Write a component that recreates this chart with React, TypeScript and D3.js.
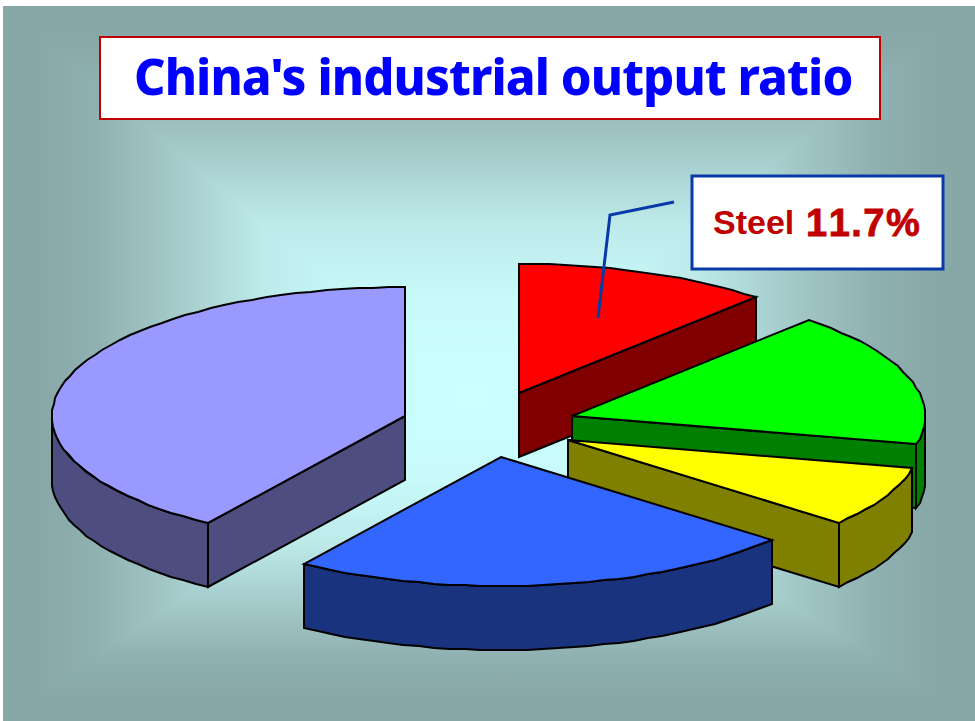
import React from "react";
import * as d3 from "d3";

// Share of industrial output per sector, clockwise from twelve o'clock.
const sectors = ["Steel", "Machinery", "Chemicals", "Textiles", "Other"];
const shares = [11.7, 16.8, 7.6, 23.3, 40.6];
const topColors = ["#ff0000", "#00ff00", "#ffff00", "#3366ff", "#9999ff"];
const sideColors = ["#800000", "#008000", "#808000", "#19337f", "#4d4d80"];
// Apex of each exploded wedge on the top plane.
const apexX = [519, 572, 568, 501, 405];
const apexY = [393, 416, 440, 457, 416];
const paintOrder = [4, 0, 1, 2, 3];

const titleText = "China's industrial output ratio";
const calloutName = "Steel";
const calloutValue = "11.7%";

const W = 975;
const H = 721;
const RX = 353;
const RY = 129;
const DEPTH = 64;
const BG = { x0: 3, y0: 6, x1: 975, y1: 721, cx: 470, cy: 400 };

const pieAngles = d3.pie<number>().sort(null).value((d) => d)(shares);

const rim = (ax: number, ay: number, t: number): [number, number] => [
  Math.round(ax + RX * Math.sin(t)),
  Math.round(ay - RY * Math.cos(t)),
];

// Sample an arc of the elliptical rim at a coarse angular step.
const rimPoints = (ax: number, ay: number, a0: number, a1: number) => {
  const n = Math.max(2, Math.ceil((a1 - a0) / (Math.PI / 70)));
  return d3.range(n + 1).map((i) => rim(ax, ay, a0 + ((a1 - a0) * i) / n));
};

const line = d3.line();
const closed = (pts: [number, number][]) => line(pts) + "Z";

const stops: [number, string][] = [
  [0, "#ccffff"],
  [0.25, "#c8fafa"],
  [0.45, "#bde9e9"],
  [0.65, "#a2c7c7"],
  [0.8, "#90b1b1"],
  [0.92, "#88a8a8"],
  [1, "#88a8a8"],
];

function Wedge({ i }: { i: number }) {
  const { startAngle: a0, endAngle: a1 } = pieAngles[i];
  const ax = apexX[i];
  const ay = apexY[i];
  const face = [[ax, ay] as [number, number], ...rimPoints(ax, ay, a0, a1)];
  const walls: [number, number][][] = [];
  const radial = (t: number) => {
    const p = rim(ax, ay, t);
    walls.push([[ax, ay], p, [p[0], p[1] + DEPTH], [ax, ay + DEPTH]]);
  };
  if (a1 < Math.PI) radial(a1);
  if (a0 > Math.PI) radial(a0);
  const v0 = Math.max(a0, Math.PI / 2);
  const v1 = Math.min(a1, (3 * Math.PI) / 2);
  if (v1 > v0) {
    const edge = rimPoints(ax, ay, v0, v1);
    const lower = edge.map(([x, y]) => [x, y + DEPTH] as [number, number]).reverse();
    walls.push([...edge, ...lower]);
  }
  const outline = { stroke: "#000", strokeWidth: 2, strokeLinejoin: "miter" as const };
  return (
    <g data-sector={sectors[i]}>
      {walls.map((w, k) => (
        <path key={k} d={closed(w)} fill={sideColors[i]} {...outline} />
      ))}
      <path d={closed(face)} fill={topColors[i]} {...outline} />
    </g>
  );
}

export default function App() {
  const { x0, y0, x1, y1, cx, cy } = BG;
  // Rectangular path gradient: one linear ramp per side, meeting along the diagonals.
  const panes = [
    { id: "bgTop", pts: [[x0, y0], [x1, y0]], g: { x1: cx, y1: cy, x2: cx, y2: y0 } },
    { id: "bgRight", pts: [[x1, y0], [x1, y1]], g: { x1: cx, y1: cy, x2: x1, y2: cy } },
    { id: "bgBottom", pts: [[x1, y1], [x0, y1]], g: { x1: cx, y1: cy, x2: cx, y2: y1 } },
    { id: "bgLeft", pts: [[x0, y1], [x0, y0]], g: { x1: cx, y1: cy, x2: x0, y2: cy } },
  ];
  return (
    <svg
      width={W}
      height={H}
      viewBox={`0 0 ${W} ${H}`}
      style={{ position: "fixed", left: 0, top: 0, display: "block", background: "#fff" }}
    >
      <defs>
        {panes.map((p) => (
          <linearGradient key={p.id} id={p.id} gradientUnits="userSpaceOnUse" {...p.g}>
            {stops.map(([o, c]) => (
              <stop key={o} offset={o} stopColor={c} />
            ))}
          </linearGradient>
        ))}
      </defs>
      {panes.map((p) => (
        <path
          key={p.id}
          d={closed([[cx, cy], p.pts[0], p.pts[1]] as [number, number][])}
          fill={`url(#${p.id})`}
          shapeRendering="crispEdges"
        />
      ))}

      {paintOrder.map((i) => (
        <Wedge key={i} i={i} />
      ))}

      <rect x={100} y={37} width={780} height={82} fill="#fff" stroke="#c00000" strokeWidth={2} />
      <text
        x={134}
        y={95}
        fontFamily="'Noto Sans', Tahoma, sans-serif"
        fontWeight={800}
        fontSize={49}
        letterSpacing={-0.9}
        fill="#0000ff"
      >
        {titleText}
      </text>

      <rect x={692} y={176} width={251} height={93} fill="#fff" stroke="#0a3aa8" strokeWidth={3} />
      <text
        x={713}
        y={234}
        fontFamily="'Liberation Sans', Arial, sans-serif"
        fontWeight={700}
        fontSize={34}
        fill="#c00000"
      >
        {calloutName}
      </text>
      <text
        x={806}
        y={236}
        fontFamily="'Liberation Sans', Arial, sans-serif"
        fontWeight={700}
        fontSize={38}
        letterSpacing={1.5}
        style={{ fontKerning: "none" }}
        fill="#c00000"
        stroke="#c00000"
        strokeWidth={0.8}
      >
        {calloutValue}
      </text>
      <polyline
        points="674,202 610,215 598,318"
        fill="none"
        stroke="#0a3aa8"
        strokeWidth={3}
      />
    </svg>
  );
}
